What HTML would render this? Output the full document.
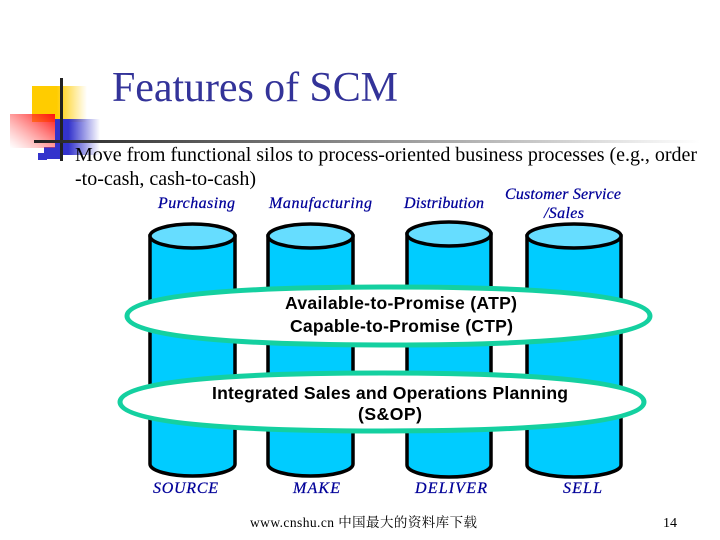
<!DOCTYPE html>
<html><head><meta charset="utf-8"><style>html,body{margin:0;padding:0;background:#fff}svg{display:block}</style></head><body>
<svg width="720" height="540" viewBox="0 0 720 540" xmlns="http://www.w3.org/2000/svg">
<defs>
<linearGradient id="y" x1="0" x2="1" y1="0" y2="0"><stop offset="0.45" stop-color="#ffcc00"/><stop offset="1" stop-color="#ffcc00" stop-opacity="0"/></linearGradient>
<linearGradient id="b" x1="0" x2="1" y1="0" y2="0"><stop offset="0.3" stop-color="#3333cc"/><stop offset="1" stop-color="#3333cc" stop-opacity="0"/></linearGradient>
<linearGradient id="r" x1="1" x2="0" y1="0" y2="1"><stop offset="0" stop-color="#ff1111"/><stop offset="1" stop-color="#ff6666" stop-opacity="0"/></linearGradient>
<linearGradient id="l" x1="0" x2="1" y1="0" y2="0"><stop offset="0" stop-color="#222"/><stop offset="1" stop-color="#fff"/></linearGradient>
</defs>
<rect x="32" y="86" width="55" height="36" fill="url(#y)"/><rect x="32" y="86" width="23" height="34" fill="#ffcc00"/>
<rect x="55" y="119" width="45" height="36" fill="url(#b)"/>
<rect x="44" y="147" width="18" height="12" fill="#3333cc"/>
<rect x="38" y="153" width="9" height="7" fill="#3333cc"/>
<rect x="10" y="114" width="45" height="34" fill="url(#r)"/>
<rect x="60" y="78" width="3" height="83" fill="#222"/>
<rect x="34" y="140" width="666" height="3" fill="url(#l)"/>
<text x="112" y="101" font-family="Liberation Serif" font-size="42" fill="#333399" textLength="286">Features of SCM</text>
<g font-family="Liberation Serif" font-size="20" fill="#000">
<text x="75" y="161" textLength="622">Move from functional silos to process-oriented business processes (e.g., order</text>
<text x="75" y="185" textLength="181">-to-cash, cash-to-cash)</text>
</g>
<g font-family="Liberation Serif" font-size="16" font-style="italic" fill="#000099" stroke="#000099" stroke-width="0.250">
<text x="158" y="208" textLength="77">Purchasing</text>
<text x="269" y="208" textLength="103">Manufacturing</text>
<text x="404" y="208" textLength="80">Distribution</text>
<text x="505" y="199" textLength="116">Customer Service</text>
<text x="544" y="218" textLength="40">/Sales</text>
<text x="153" y="493" textLength="65">SOURCE</text>
<text x="293" y="493" textLength="47">MAKE</text>
<text x="415" y="493" textLength="72">DELIVER</text>
<text x="563" y="493" textLength="39">SELL</text>
</g>
<g stroke="#000" stroke-width="3.500">
<path d="M150 236V464C150 471 170 476 192.500 476S235 471 235 464V236Z" fill="#00ccff"/><ellipse cx="192.500" cy="236" rx="42.500" ry="12" fill="#66ddff"/>
<path d="M268 236V464C268 471 288 476 310.500 476S353 471 353 464V236Z" fill="#00ccff"/><ellipse cx="310.500" cy="236" rx="42.500" ry="12" fill="#66ddff"/>
<path d="M407 234V465C407 472 427 477 449 477S491 472 491 465V234Z" fill="#00ccff"/><ellipse cx="449" cy="234" rx="42" ry="12" fill="#66ddff"/>
<path d="M527 236V465C527 472 550 477 574 477S621 472 621 465V236Z" fill="#00ccff"/><ellipse cx="574" cy="236" rx="47" ry="12" fill="#66ddff"/>
</g>
<path d="M127 316C127 293 258.500 287 388.500 287S650 293 650 316S518.500 345 388.500 345S127 339 127 316Z" fill="#fff" stroke="#14d0a0" stroke-width="5"/>
<path d="M120 402C120 379 252 373 382 373S644 379 644 402S512 431 382 431S120 425 120 402Z" fill="#fff" stroke="#14d0a0" stroke-width="5"/>
<g font-family="Liberation Sans" font-size="17.600" font-weight="bold" fill="#000">
<text x="285" y="309" textLength="232">Available-to-Promise (ATP)</text>
<text x="290" y="332" textLength="223">Capable-to-Promise (CTP)</text>
<text x="212" y="399" textLength="356">Integrated Sales and Operations Planning</text>
<text x="358" y="420" textLength="64">(S&amp;OP)</text>
</g>
<text x="250" y="527" font-family="Liberation Serif,'Noto Serif CJK SC',serif" font-size="13.500" fill="#000" textLength="227">www.cnshu.cn 中国最大的资料库下载</text>
<text x="663" y="527" font-family="Liberation Serif" font-size="14" fill="#000">14</text>
</svg>
</body></html>
